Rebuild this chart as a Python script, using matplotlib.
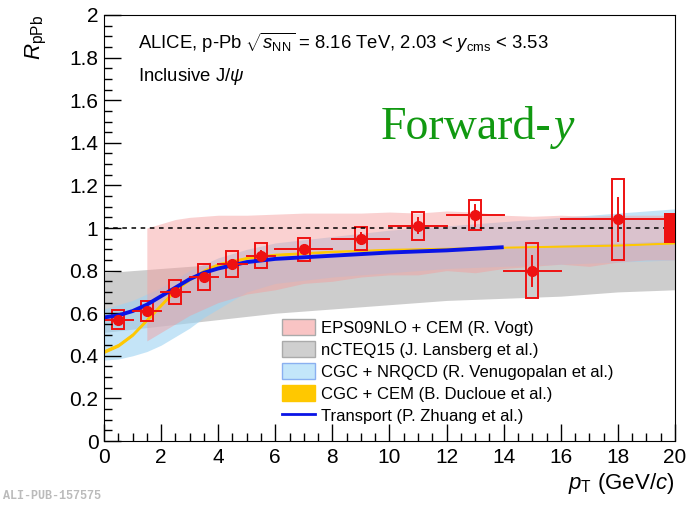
import numpy as np
import matplotlib
matplotlib.use("Agg")
import matplotlib.pyplot as plt
from matplotlib.patches import Rectangle
from matplotlib.lines import Line2D

plt.rcParams['font.family'] = ['Liberation Sans', 'DejaVu Sans']
plt.rcParams['mathtext.fontset'] = 'custom'
plt.rcParams['mathtext.rm'] = 'Liberation Sans'
plt.rcParams['mathtext.it'] = 'Liberation Sans:italic'

# ALICE data points
pt = [0.5, 1.5, 2.5, 3.5, 4.5, 5.5, 7, 9, 11, 13, 15, 18]
pt_lo = [0, 1, 2, 3, 4, 5, 6, 8, 10, 12, 14, 16]
pt_hi = [1, 2, 3, 4, 5, 6, 8, 10, 12, 14, 16, 20]
rppb = [0.57, 0.61, 0.70, 0.77, 0.83, 0.87, 0.90, 0.95, 1.01, 1.06, 0.80, 1.04]
stat = [0.01, 0.01, 0.015, 0.015, 0.02, 0.02, 0.02, 0.025, 0.035, 0.05, 0.07, 0.10]
syst = [0.045, 0.048, 0.055, 0.06, 0.06, 0.06, 0.055, 0.055, 0.065, 0.07, 0.13, 0.19]
glob = 0.07

# EPS09NLO + CEM (R. Vogt)
eps_x = [1.5, 2, 2.5, 3, 3.5, 4, 5, 6, 7, 8, 9, 10, 11, 12, 13, 14, 15, 16, 17, 18, 19, 20]
eps_hi = [1.0, 1.02, 1.04, 1.05, 1.055, 1.06, 1.06, 1.065, 1.07, 1.07, 1.07, 1.075, 1.07, 1.08, 1.075, 1.06, 1.055, 1.06, 1.055, 1.06, 1.06, 1.06]
eps_lo = [0.47, 0.51, 0.55, 0.59, 0.62, 0.65, 0.69, 0.71, 0.74, 0.75, 0.77, 0.78, 0.78, 0.80, 0.79, 0.81, 0.82, 0.83, 0.82, 0.84, 0.85, 0.85]

# nCTEQ15 (J. Lansberg et al.)
ncteq_x = [0, 2, 4, 6, 8, 10, 12, 14, 16, 18, 20]
ncteq_hi = [0.79, 0.81, 0.83, 0.85, 0.87, 0.88, 0.90, 0.91, 0.92, 0.93, 0.94]
ncteq_lo = [0.51, 0.54, 0.57, 0.60, 0.62, 0.64, 0.66, 0.67, 0.68, 0.70, 0.71]

# CGC + NRQCD (R. Venugopalan et al.)
nrqcd_x = [0, 0.5, 1, 1.5, 2, 2.5, 3, 3.5, 4, 5, 6, 8, 10, 12, 14, 16, 18, 20]
nrqcd_hi = [0.62, 0.64, 0.66, 0.69, 0.72, 0.76, 0.80, 0.83, 0.86, 0.90, 0.93, 0.96, 0.99, 1.01, 1.03, 1.05, 1.07, 1.09]
nrqcd_lo = [0.38, 0.385, 0.40, 0.42, 0.45, 0.49, 0.53, 0.58, 0.62, 0.70, 0.74, 0.77, 0.79, 0.81, 0.82, 0.83, 0.84, 0.85]

# CGC + CEM (B. Ducloue et al.)
cem_x = [0, 0.5, 1, 1.5, 2, 2.5, 3, 3.5, 4, 5, 6, 8, 10, 12, 14, 16, 18, 20]
cem_y = [0.42, 0.45, 0.50, 0.57, 0.64, 0.71, 0.76, 0.80, 0.83, 0.86, 0.875, 0.89, 0.90, 0.905, 0.91, 0.915, 0.92, 0.93]
cem_err = [0.006, 0.006, 0.006, 0.006, 0.006, 0.006, 0.005, 0.005, 0.005, 0.004, 0.004, 0.003, 0.002, 0.002, 0.002, 0.002, 0.002, 0.002]

# Transport (P. Zhuang et al.)
tr_x = [0, 0.5, 1, 1.5, 2, 2.5, 3, 3.5, 4, 5, 6, 8, 10, 12, 14]
tr_y = [0.58, 0.59, 0.61, 0.64, 0.68, 0.72, 0.76, 0.79, 0.81, 0.84, 0.855, 0.87, 0.885, 0.895, 0.91]

fig = plt.figure(figsize=(6.87, 5.05), dpi=100)
ax = fig.add_axes([0.1514, 0.1267, 0.8311, 0.8436])

# model bands
ax.fill_between(ncteq_x, ncteq_lo, ncteq_hi, color='#c8c8c8', lw=0, alpha=0.9)
ax.fill_between(nrqcd_x, nrqcd_lo, nrqcd_hi, color='#9dd3f2', lw=0, alpha=0.6)
ax.fill_between(eps_x, eps_lo, eps_hi, color='#f59a9a', lw=0, alpha=0.45)
cem_y = np.array(cem_y)
cem_err = np.array(cem_err)
ax.fill_between(cem_x, cem_y - cem_err, cem_y + cem_err, color='#ffc800', lw=0.8, edgecolor='#ffc800')
ax.plot(tr_x, tr_y, color='#0a14e6', lw=2.8, solid_capstyle='butt')

ax.axhline(1.0, color='black', ls=(0, (3, 3)), lw=1.1)

# data: systematic boxes, stat bars, x bins
for i in range(len(pt)):
    ax.add_patch(Rectangle((pt[i] - 0.21, rppb[i] - syst[i]), 0.42, 2 * syst[i],
                           fill=False, edgecolor='#ee1111', lw=1.4))
    ax.plot([pt_lo[i], pt_hi[i]], [rppb[i], rppb[i]], color='#ee1111', lw=1.4)
    ax.plot([pt[i], pt[i]], [rppb[i] - stat[i], rppb[i] + stat[i]], color='#ee1111', lw=1.4)
ax.plot(pt, rppb, 'o', color='#ee1111', ms=7, zorder=5)
ax.add_patch(Rectangle((19.6, 1 - glob), 0.4, 2 * glob, color='#ee1111', lw=0, zorder=6))

ax.set_xlim(0, 20)
ax.set_ylim(0, 2)
ax.set_xticks(np.arange(0, 21, 2))
ax.set_xticks(np.arange(0, 20.1, 0.5), minor=True)
ax.set_yticks(np.arange(0, 2.01, 0.2))
ax.set_yticks(np.arange(0, 2.01, 0.05), minor=True)
ax.set_yticklabels(['0', '0.2', '0.4', '0.6', '0.8', '1', '1.2', '1.4', '1.6', '1.8', '2'])
ax.tick_params(which='both', direction='in', top=False, right=False, labelsize=15)
ax.tick_params(which='major', length=12, width=1)
ax.tick_params(which='minor', length=6, width=1)
ax.tick_params(axis='x', pad=5)
ax.tick_params(axis='y', pad=4)

fig.text(0.982, 0.018, r'$p_{\rm T}$ (GeV/$c$)', ha='right', va='bottom', fontsize=16)
fig.text(0.035, 0.97, r'$R_{\rm pPb}$', ha='left', va='top', rotation=90, fontsize=16)

ax.text(0.06, 0.935, r'ALICE, p-Pb $\sqrt{s_{\rm NN}}$ = 8.16 TeV, 2.03 < $y_{\rm cms}$ < 3.53',
        transform=ax.transAxes, fontsize=13.3, va='center')
ax.text(0.06, 0.855, r'Inclusive J/$\psi$', transform=ax.transAxes, fontsize=13.3, va='center')
ax.text(0.485, 0.735, 'Forward-', transform=ax.transAxes, fontsize=33, color='#119911',
        family='Liberation Serif', va='center')
ax.text(0.788, 0.735, 'y', transform=ax.transAxes, fontsize=33, color='#119911',
        family='Liberation Serif', style='italic', va='center')

handles = [
    Rectangle((0, 0), 1, 1, facecolor='#f9c4c4', edgecolor='#aaaaaa'),
    Rectangle((0, 0), 1, 1, facecolor='#cfcfcf', edgecolor='#aaaaaa'),
    Rectangle((0, 0), 1, 1, facecolor='#c3e6fa', edgecolor='#8ab0f0'),
    Rectangle((0, 0), 1, 1, facecolor='#ffc800', edgecolor='#ffc800'),
    Line2D([0], [0], color='#0a14e6', lw=2),
]
labels = ['EPS09NLO + CEM (R. Vogt)', 'nCTEQ15 (J. Lansberg et al.)',
          'CGC + NRQCD (R. Venugopalan et al.)', 'CGC + CEM (B. Ducloue et al.)',
          'Transport (P. Zhuang et al.)']
ax.legend(handles, labels, loc='lower left', bbox_to_anchor=(0.3, 0.025), frameon=False,
          fontsize=12, handlelength=2.0, handleheight=1.1, labelspacing=0.32,
          handletextpad=0.35, borderaxespad=0)

fig.text(0.005, 0.012, 'ALI-PUB-157575', family='Liberation Mono', fontsize=8.5,
         color='#bbbbbb', weight='bold')

fig.savefig('out.png', dpi=100)
